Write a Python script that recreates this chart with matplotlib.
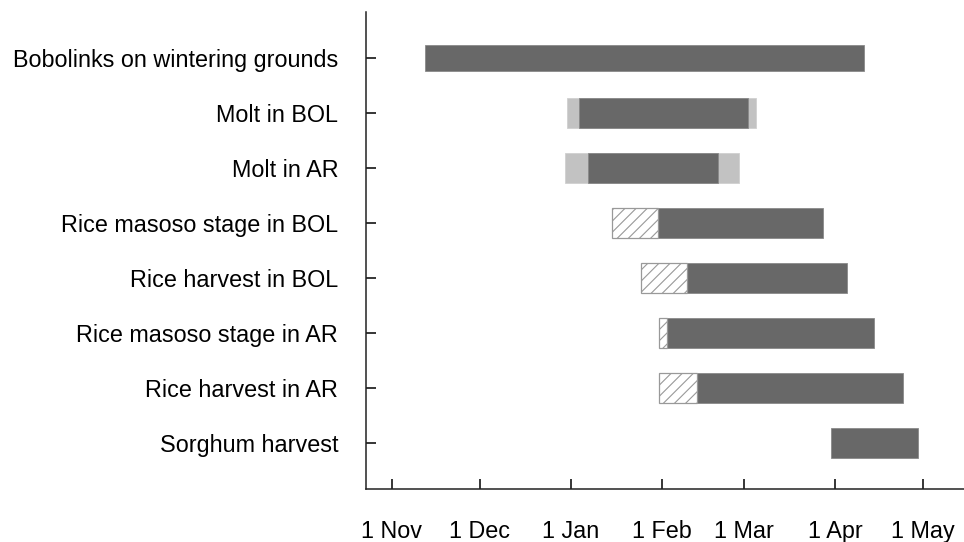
import matplotlib
matplotlib.use('Agg')
import matplotlib.pyplot as plt
import numpy as np

# days counted from 1 Nov
categories = ["Bobolinks on wintering grounds", "Molt in BOL", "Molt in AR",
              "Rice masoso stage in BOL", "Rice harvest in BOL",
              "Rice masoso stage in AR", "Rice harvest in AR", "Sorghum harvest"]
core_start = [11.3, 63.7, 66.8, 90.8, 100.6, 93.7, 103.9, 149.8]
core_end = [160.8, 121.3, 111.2, 147.1, 155.1, 164.2, 174.1, 179.2]

# molt extent (light grey), rows 1-2
molt_rows = [1, 2]
molt_start = [59.8, 58.9]
molt_end = [124.2, 118.2]

# early onset (hatched), rows 3-6
early_rows = [3, 4, 5, 6]
early_start = [75.0, 85.0, 90.9, 90.9]

tick_days = [0, 30, 61, 92, 120, 151, 181]
tick_labels = ["1 Nov", "1 Dec", "1 Jan", "1 Feb", "1 Mar", "1 Apr", "1 May"]

plt.rcParams['font.family'] = ['Liberation Sans', 'DejaVu Sans']
plt.rcParams['hatch.linewidth'] = 0.8

fig = plt.figure(figsize=(9.64, 5.42), dpi=100)
ax = fig.add_axes([366/964, 1 - 489/542, 1 - 366/964, (489 - 12)/542])

dark = '#686868'
light = '#c2c2c2'
y = np.arange(len(categories))
heights = [0.48] + [0.54] * (len(categories) - 1)

ax.barh(molt_rows, np.array(molt_end) - np.array(molt_start), left=molt_start,
        height=0.54, color=light, edgecolor='#d0d0d0', linewidth=0.6)
ax.barh(y, np.array(core_end) - np.array(core_start), left=core_start,
        height=heights, color=dark, edgecolor='#8a8a8a', linewidth=0.6)
early_w = [core_start[r] - s for r, s in zip(early_rows, early_start)]
ax.barh(early_rows, early_w, left=early_start, height=0.54,
        color='white', edgecolor='#999999', hatch='///', linewidth=0.9)

ax.set_ylim(7.84, -0.84)
ax.set_xlim(-8.8, 195)
ax.set_yticks(y)
ax.set_yticklabels(categories)
ax.set_xticks(tick_days)
ax.set_xticklabels(tick_labels)

ax.tick_params(axis='y', direction='in', length=7, width=1.1, pad=20, labelsize=16.8)
ax.tick_params(axis='x', direction='in', length=7, width=1.1, pad=22, labelsize=16.8)
for side in ['top', 'right']:
    ax.spines[side].set_visible(False)
for side in ['left', 'bottom']:
    ax.spines[side].set_linewidth(1.1)
    ax.spines[side].set_color('#222222')

fig.savefig('out.png', dpi=100)
